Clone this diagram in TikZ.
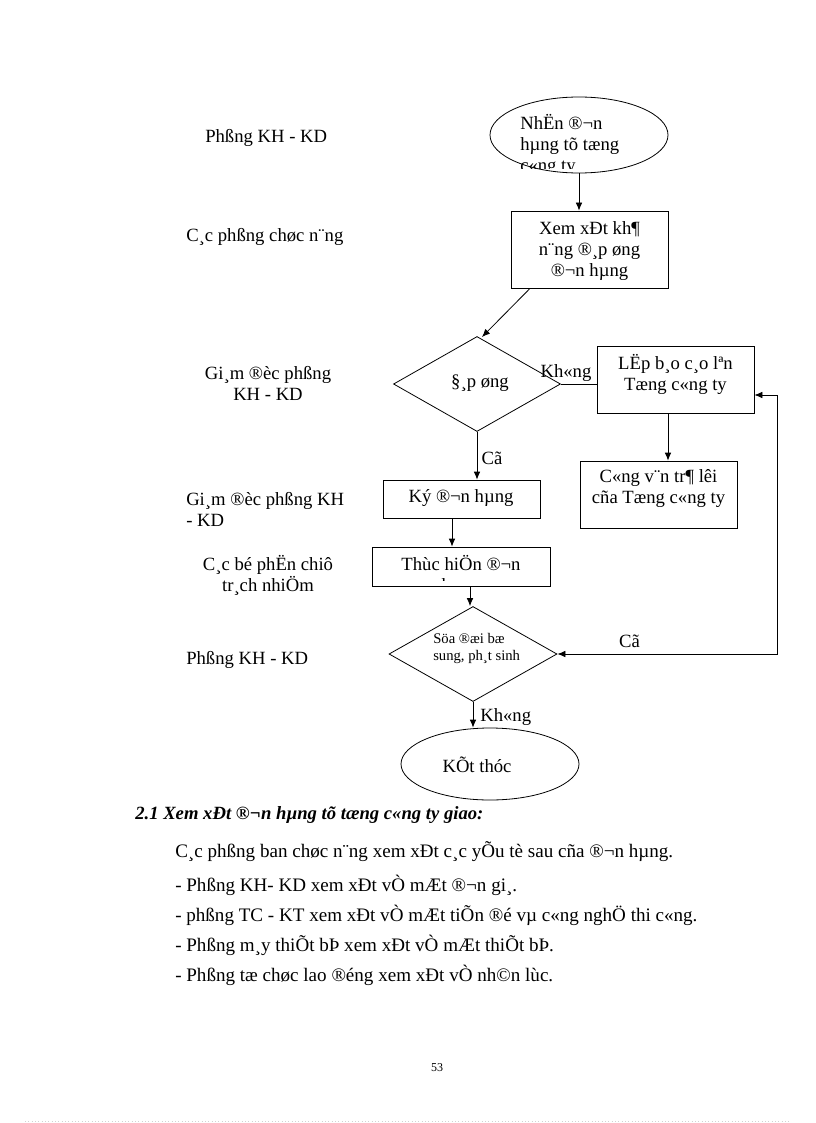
\documentclass[tikz,border=0pt]{standalone}
\usepackage{fontspec}
\setmainfont{Liberation Serif}
\usetikzlibrary{shapes.geometric,arrows.meta,calc}
\begin{document}
\begin{tikzpicture}[x=0.75pt,y=-0.75pt,
  every node/.style={inner sep=0pt},
  lab/.style={font=\fontsize{14}{15.75}\selectfont},
  small/.style={font=\fontsize{11}{12.75}\selectfont},
  body/.style={font=\fontsize{14.3}{17}\selectfont, anchor=west},
  shp/.style={draw, line width=0.6pt},
  conn/.style={line width=0.6pt},
  arr/.style={line width=0.6pt, -{Latex[length=6pt,width=5pt]}},
  darr/.style={line width=0.6pt, {Latex[length=6pt,width=5pt]}-{Latex[length=6pt,width=5pt]}}
]
\useasboundingbox (0,0) rectangle (816,1123);

% ---------- left column labels ----------
\node[lab, anchor=west] (l1) at (205,138) {Phßng KH - KD};
\node[lab, anchor=west] (l2) at (186,237) {C¸c phßng chøc n¨ng};
\node[lab, align=center] (l3) at (268,383) {Gi¸m ®èc phßng\\KH - KD};
\node[lab, align=left, anchor=west] (l4) at (186,509) {Gi¸m ®èc phßng KH\\- KD};
\node[lab, align=center] (l5) at (268,575) {C¸c bé phËn chiô\\tr¸ch nhiÖm};
\node[lab, anchor=west] (l6) at (186,660) {Phßng KH - KD};

% ---------- shapes ----------
\node[shp, ellipse, minimum width=133.5pt, minimum height=57pt] (e1) at (579,135) {};
\node[shp, rectangle, minimum width=117.75pt, minimum height=57.75pt] (b1) at (589.5,249.5) {};
\node[shp, diamond, minimum width=125.25pt, minimum height=71.25pt] (d1) at (477,384) {};
\node[shp, rectangle, minimum width=117.75pt, minimum height=50.25pt] (b2) at (675.5,379.5) {};
\node[shp, rectangle, minimum width=117.75pt, minimum height=50.25pt] (b3) at (658.5,494.5) {};
\node[shp, rectangle, minimum width=117.75pt, minimum height=28.5pt] (b4) at (461.5,499) {};
\node[shp, rectangle, minimum width=133.5pt, minimum height=29.25pt] (b5) at (461,566.5) {};
\node[shp, diamond, minimum width=126pt, minimum height=71.25pt] (d2) at (473,654) {};
\node[shp, ellipse, minimum width=133.5pt, minimum height=54pt] (e2) at (490,764) {};

% ---------- texts in shapes ----------
\begin{scope}
  \clip (480,90) rectangle (680,169);
  \node[lab, align=left, anchor=west] (t1) at (520,145) {NhËn ®¬n\\hµng tõ tæng\\c«ng ty};
\end{scope}
\node[lab, align=center] (t2) at (589.5,251) {Xem xÐt kh¶\\n¨ng ®¸p øng\\®¬n hµng};
\node[lab] (t3) at (480,383) {§¸p øng};
\node[lab, align=center] (t4) at (675.5,374) {LËp b¸o c¸o lªn\\Tæng c«ng ty};
\node[lab, align=center] (t5) at (658.5,488.5) {C«ng v¨n tr¶ lêi\\cña Tæng c«ng ty};
\node[lab] (t6) at (461,498) {Ký ®¬n hµng};
\begin{scope}
  \clip (372,547) rectangle (550,580);
  \node[lab, align=center] (t7) at (461,575.5) {Thùc hiÖn ®¬n\\hµng};
\end{scope}
\node[small, align=left, anchor=west] (t8) at (433,648.5) {Söa ®æi bæ\\sung, ph¸t sinh};
\node[lab] (t9) at (477,765) {KÕt thóc};

% ---------- connector labels ----------
\node[lab] (k1) at (566,373) {Kh«ng};
\node[lab] (c1) at (492,458) {Cã};
\node[lab] (c2) at (629.5,641) {Cã};
\node[lab, anchor=west] (k2) at (480,717) {Kh«ng};

% ---------- helper coordinates ----------
\coordinate (xa) at (579,0);
\coordinate (xb) at (530,0);
\coordinate (tipd1) at (482,337);
\coordinate (xc) at (668,0);
\coordinate (xd) at (452,0);
\coordinate (xf) at (470,0);
\coordinate (r1) at (777,395);
\coordinate (r2) at (777,654);

% ---------- connectors ----------
\draw[arr] (e1.south -| xa) -- (b1.north -| xa);
\draw[arr] (b1.south -| xb) -- (tipd1);
\draw[conn] (d1.east) -- (b2.west |- d1.east);
\draw[arr] (b2.south -| xc) -- (b3.north -| xc);
\draw[arr] (d1.south) -- (b4.north -| d1.south);
\draw[arr] (b4.south -| xd) -- (b5.north -| xd);
\draw[arr] (b5.south -| xf) -- (d2.north -| xf);
\draw[darr] (d2.east) -- (r2) -- (r1) -- (b2.east |- r1);
\draw[arr] (d2.south) -- (e2.north -| d2.south);

% ---------- text below ----------
\node[font=\bfseries\itshape\fontsize{14}{17}\selectfont, anchor=west] (h1) at (135,815) {2.1 Xem xÐt ®¬n hµng tõ tæng c«ng ty giao:};
\node[body] (p1) at (175,852) {C¸c phßng ban chøc n¨ng xem xÐt c¸c yÕu tè sau cña ®¬n hµng.};
\node[body] (p2) at (175,885) {- Phßng KH- KD xem xÐt vÒ mÆt ®¬n gi¸.};
\node[body] (p3) at (175,915) {- phßng TC - KT xem xÐt vÒ mÆt tiÕn ®é vµ c«ng nghÖ thi c«ng.};
\node[body] (p4) at (175,945) {- Phßng m¸y thiÕt bÞ xem xÐt vÒ mÆt thiÕt bÞ.};
\node[body] (p5) at (175,975) {- Phßng tæ chøc lao ®éng xem xÐt vÒ nh©n lùc.};

\node[font=\fontsize{9}{10}\selectfont] (pg) at (437,1068) {53};
\draw[gray!35, dotted, line width=0.5pt] (25,1121) -- (790,1121);
\end{tikzpicture}
\end{document}
